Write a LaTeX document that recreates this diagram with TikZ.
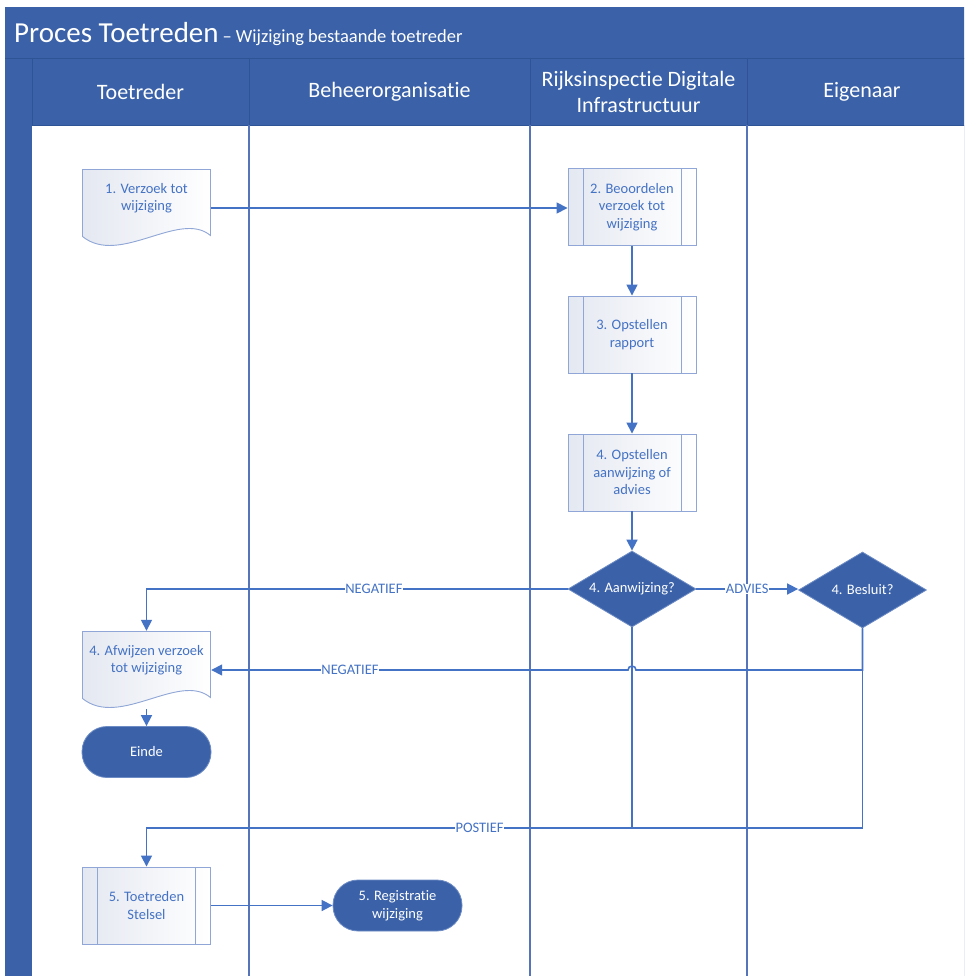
\documentclass[tikz,border=0pt]{standalone}
\usepackage{fontspec}
\setmainfont{Carlito}[Ligatures=NoCommon]
\usepackage{tikz}
\usetikzlibrary{calc, arrows.meta, positioning, shapes.geometric}

\definecolor{poolblue}{HTML}{3B62A8}
\definecolor{pooldark}{HTML}{2F5496}
\definecolor{lanebl}{HTML}{5674B9}
\definecolor{flowbl}{HTML}{4472C4}
\definecolor{shapeln}{HTML}{8FA6D6}
\definecolor{procgrey}{HTML}{E4E8F1}

\tikzset{
  flow/.style={draw=flowbl, line width=1.6pt, -{Triangle[length=11pt,width=11pt]}},
  flowline/.style={draw=flowbl, line width=1.6pt},
  lbl/.style={fill=white, text=flowbl, inner sep=0.6pt, font=\fontsize{14.5}{17}\selectfont},
  lanehead/.style={text=white, align=center, font=\fontsize{22}{26}\selectfont},
  proc/.style={rectangle, draw=shapeln, line width=0.9pt, left color=procgrey, right color=white,
    text=flowbl, minimum width=128pt, minimum height=77pt, align=center,
    font=\fontsize{14.5}{17.5}\selectfont,
    path picture={\draw[shapeln, line width=0.9pt]
      ([xshift=15pt]path picture bounding box.north west) -- ([xshift=15pt]path picture bounding box.south west)
      ([xshift=-15pt]path picture bounding box.north east) -- ([xshift=-15pt]path picture bounding box.south east);}},
  docu/.style={rectangle, fill=white, text=flowbl, minimum width=129pt, minimum height=78pt, align=center,
    text depth=22pt, font=\fontsize{14.5}{17.5}\selectfont,
    path picture={\draw[shapeln, line width=0.9pt, left color=procgrey, right color=white]
      ([shift={(0.5,0.5)}]path picture bounding box.north west) -- ++(128,0) -- ++(0,66)
      .. controls +(-31,-26) and +(37,30) .. ([shift={(0.5,67.5)}]path picture bounding box.north west) -- cycle;}},
  decision/.style={diamond, aspect=1.7, fill=poolblue, draw=shapeln!60!poolblue, line width=0.8pt, text=white,
    minimum width=128pt, minimum height=76pt, inner sep=0pt, font=\fontsize{14.5}{17}\selectfont},
  term/.style={rectangle, rounded corners=25pt, fill=poolblue, draw=shapeln!60!poolblue, line width=0.8pt,
    text=white, minimum width=129pt, minimum height=51pt, align=center, font=\fontsize{14.5}{17.5}\selectfont},
}

\begin{document}
\begin{tikzpicture}[x=1pt, y=-1pt]
  \useasboundingbox (0,0) rectangle (964,976);
  \clip (0,0) rectangle (964,976);

  % pool, lanes
  \fill[poolblue] (5,7) rectangle (995,995);
  \fill[white] (32,125) rectangle (995,995);
  \draw[pooldark, line width=0.8pt] (5,58) -- (995,58);
  \draw[pooldark, line width=0.8pt] (32,58) -- (32,125) -- (995,125);
  \foreach \x in {249,530,747,977} {
    \draw[pooldark, line width=0.8pt] (\x,58) -- (\x,125);
    \draw[lanebl, line width=1.3pt] (\x,125) -- (\x,995);
  }

  \node[anchor=base west, text=white, inner sep=0pt] (title) at (14,43)
    {{\fontsize{29}{30}\selectfont Proces Toetreden}\, {\fontsize{18.5}{20}\selectfont -- Wijziging bestaande toetreder}};

  \node[lanehead] (h_toe) at (140.5,91.5) {Toetreder};
  \node[lanehead] (h_beh) at (389.5,91.5) {Beheerorganisatie};
  \node[lanehead] (h_rdi) at (638.5,91.5) {Rijksinspectie Digitale\\Infrastructuur};
  \node[lanehead] (h_eig) at (862,91.5) {Eigenaar};

  % steps
  \node[docu] (verzoek) at (146.5,208) {1. Verzoek tot\\wijziging};
  \node[proc] (beoordelen) at (632,207) {2. Beoordelen\\verzoek tot\\wijziging};
  \node[proc] (rapport) at (632,334.5) {3. Opstellen\\rapport};
  \node[proc] (aanwijzing) at (632,472.5) {4. Opstellen\\aanwijzing of\\advies};
  \node[decision] (aanw) at (632,589) {4. Aanwijzing?};
  \node[decision] (besluit) at (862.5,590) {4. Besluit?};
  \node[docu] (afwijzen) at (146.5,670) {4. Afwijzen verzoek\\tot wijziging};
  \node[term] (einde) at (146.5,752) {Einde};
  \node[proc] (toetreden) at (146.5,905.5) {5. Toetreden\\Stelsel};
  \node[term] (registratie) at (397.5,905.5) {5. Registratie\\wijziging};

  \coordinate (hopR) at (636,670);
  \coordinate (pjoin) at (632,828);

  % flows
  \draw[flow] (verzoek.east) -- (verzoek.east -| beoordelen.west);
  \draw[flow] (beoordelen) -- (rapport);
  \draw[flow] (rapport) -- (aanwijzing);
  \draw[flow] (aanwijzing) -- (aanw);
  \draw[flow] (aanw.east) -- node[lbl, pos=0.5]{ADVIES} (aanw.east -| besluit.west);
  \draw[flow] (aanw.west) -| node[lbl, pos=0.23]{NEGATIEF} (afwijzen.north);
  \draw[flow] (besluit.south) |- (hopR) arc[start angle=0, end angle=-180, radius=4]
    -- node[lbl, pos=0.667]{NEGATIEF} (afwijzen.east);
  \draw[flow] (afwijzen.south) -- (einde.north);
  \draw[flow] (aanw.south) -- (pjoin) -| node[lbl, pos=0.157]{POSTIEF} (toetreden.north);
  \draw[flowline] (besluit.south) |- (pjoin);
  \draw[flow] (toetreden.east) -- (registratie.west);
\end{tikzpicture}
\end{document}
